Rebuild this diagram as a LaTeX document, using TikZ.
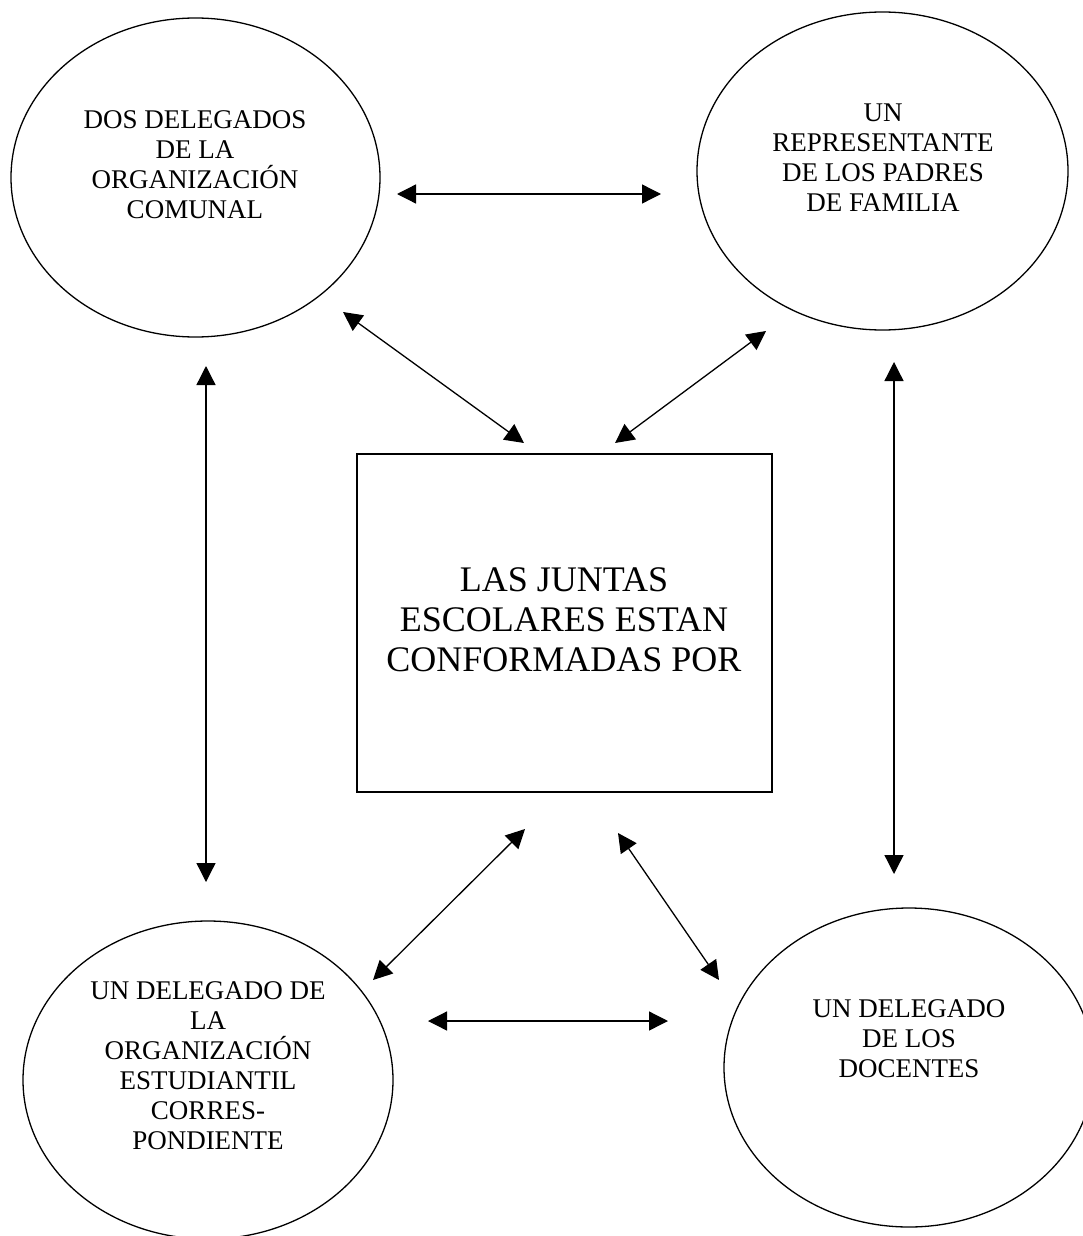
\documentclass[tikz,border=0pt]{standalone}
\usepackage{fontspec}
\setmainfont{Liberation Serif}
\usetikzlibrary{shapes.geometric,arrows.meta}
\begin{document}
\begin{tikzpicture}[x=1pt,y=-1pt,
  oval/.style={draw,ellipse,line width=1.3pt,inner sep=0pt},
  lbl/.style={align=center,font=\fontsize{27}{30}\selectfont,inner sep=0pt},
  boxlbl/.style={align=center,font=\fontsize{36}{40}\selectfont,inner sep=0pt},
  arr/.style={line width=1.3pt,{Triangle[length=19pt,width=19pt]}-{Triangle[length=19pt,width=19pt]}}]
\useasboundingbox (0,0) rectangle (1083,1236);
\clip (0,0) rectangle (1083,1236);
\fill[white] (0,0) rectangle (1083,1236);
% ellipses
\node[oval,minimum width=369pt,minimum height=319pt] (tl) at (195.5,177.5) {};
\node[oval,minimum width=371pt,minimum height=318pt] (tr) at (882.5,171) {};
\node[oval,minimum width=370pt,minimum height=318pt] (bl) at (208,1080) {};
\node[oval,minimum width=370pt,minimum height=319pt] (br) at (909,1067.5) {};
% box
\node[draw,line width=1.3pt,minimum width=415pt,minimum height=338pt,inner sep=0pt] (box) at (564.5,623) {};
% texts
\node[lbl] (tlt) at (195,165) {DOS DELEGADOS\\DE LA\\ORGANIZACIÓN\\COMUNAL};
\node[lbl] (trt) at (883,158) {UN\\REPRESENTANTE\\DE LOS PADRES\\DE FAMILIA};
\node[lbl] (blt) at (208,1066) {UN DELEGADO DE\\LA\\ORGANIZACIÓN\\ESTUDIANTIL\\CORRES-\\PONDIENTE};
\node[lbl] (brt) at (909,1039) {UN DELEGADO\\DE LOS\\DOCENTES};
\node[boxlbl] (boxt) at (564,620) {LAS JUNTAS\\ESCOLARES ESTAN\\CONFORMADAS POR};
% arrow end points
\coordinate (h1a) at (397,194);  \coordinate (h1b) at (661,194);
\coordinate (h2a) at (428,1021); \coordinate (h2b) at (668,1021);
\coordinate (v1a) at (206,366);  \coordinate (v1b) at (206,882);
\coordinate (v2a) at (894,362);  \coordinate (v2b) at (894,874);
\coordinate (d1a) at (343,312);  \coordinate (d1b) at (524,443);
\coordinate (d2a) at (766,331);  \coordinate (d2b) at (615,443);
\coordinate (d3a) at (525,829);  \coordinate (d3b) at (373,980);
\coordinate (d4a) at (618,833);  \coordinate (d4b) at (719,980);
\draw[arr] (h1a) -- (h1b);
\draw[arr] (h2a) -- (h2b);
\draw[arr] (v1a) -- (v1b);
\draw[arr] (v2a) -- (v2b);
\draw[arr] (d1a) -- (d1b);
\draw[arr] (d2a) -- (d2b);
\draw[arr] (d3a) -- (d3b);
\draw[arr] (d4a) -- (d4b);
\end{tikzpicture}
\end{document}
